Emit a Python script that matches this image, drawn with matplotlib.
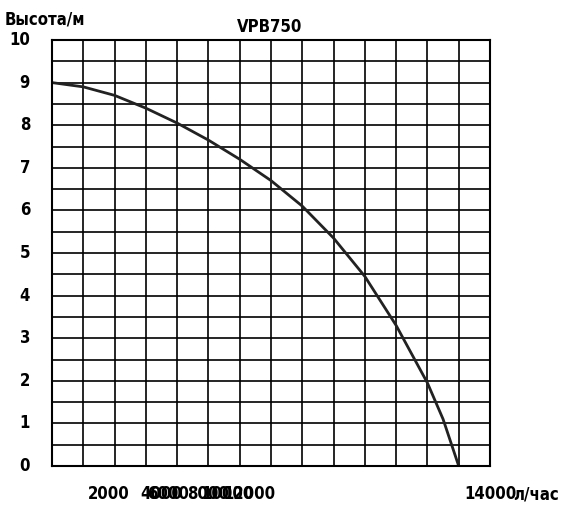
import matplotlib
matplotlib.use("Agg")
import matplotlib.pyplot as plt
import numpy as np

flow = [0, 1000, 2000, 3000, 4000, 5000, 6000, 7000, 8000, 9000, 10000, 11000, 12000, 12500, 13000]
head = [9.0, 8.9, 8.7, 8.4, 8.05, 7.65, 7.2, 6.7, 6.1, 5.35, 4.45, 3.3, 1.95, 1.1, 0.0]
xlabels = ["2000", "4000", "6000", "8000", "10000", "12000", "14000"]
xlabel_pos = [1800, 3500, 3700, 5000, 5600, 6300, 14000]
ylabels = [str(i) for i in range(11)]

fam = ["DejaVu Sans"]
fig = plt.figure(figsize=(5.87, 5.12), dpi=100)
ax = fig.add_axes([52/587, 1-466/512, 438/587, 426/512])
ax.set_xlim(0, 14000)
ax.set_ylim(0, 10)
ax.set_xticks(np.arange(0, 14001, 1000))
ax.set_yticks(np.arange(0, 10.01, 0.5))
ax.grid(True, color="black", linewidth=1.2)
ax.tick_params(length=0, labelbottom=False, labelleft=False)
for s in ax.spines.values():
    s.set_linewidth(1.5)
ax.plot(flow, head, color="#222222", linewidth=2)

kw = dict(fontsize=12, fontweight="bold", family=fam, fontstretch="condensed")
for i, l in enumerate(ylabels):
    ax.text(-700, i, l, ha="right", va="center", **kw)
for p, l in zip(xlabel_pos, xlabels):
    ax.text(p, -0.45, l, ha="center", va="top", **kw)
ax.text(14750, -0.45, "л/час", ha="left", va="top", **kw)
fig.text(5/587, 1-20/512, "Высота/м", ha="left", va="center", **kw)
fig.text(270/587, 1-27/512, "VPB750", ha="center", va="center", **kw)
fig.savefig("out.png", dpi=100)
